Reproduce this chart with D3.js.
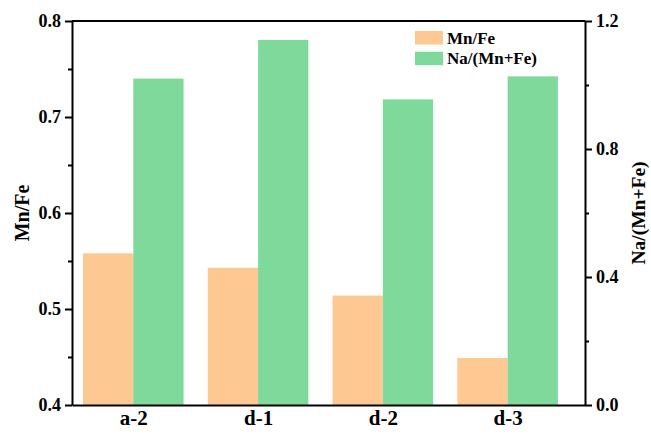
<!DOCTYPE html>
<html>
<head>
<meta charset="utf-8">
<script src="https://cdn.jsdelivr.net/npm/d3@7"></script>
<style>
  html, body { margin: 0; padding: 0; background: #fff; }
  svg text { font-family: "Liberation Serif", "Times New Roman", serif; font-weight: bold; fill: #000; }
</style>
</head>
<body>
<svg id="chart" width="651" height="435"></svg>
<script>
// Samples along the x axis
const categories = ["a-2", "d-1", "d-2", "d-3"];
// Mn/Fe ratio (left axis)
const mnFe = [0.558, 0.543, 0.514, 0.449];
// Na/(Mn+Fe) ratio (right axis)
const naMnFe = [1.020, 1.141, 0.955, 1.027];
// Axis ticks
const leftTicks = [0.4, 0.5, 0.6, 0.7, 0.8];
const leftMinor = [0.45, 0.55, 0.65, 0.75];
const rightTicks = [0.0, 0.4, 0.8, 1.2];
const rightMinor = [0.2, 0.6, 1.0];
const seriesNames = ["Mn/Fe", "Na/(Mn+Fe)"];
const colors = ["#FEC893", "#7FD99B"];

const svg = d3.select("#chart");
const L = 72, R = 585, T = 21, B = 405;

// x positions: category i sits at i+1 on a continuous axis
const x = d3.scaleLinear().domain([0.509, 4.62]).range([L, R]);
const yL = d3.scaleLinear().domain([0.4, 0.8]).range([B, T]);
const yR = d3.scaleLinear().domain([0.0, 1.2]).range([B, T]);
const barW = x(1.403) - x(1);

// Bars
const g = svg.append("g");
g.selectAll("rect.mn").data(mnFe).enter().append("rect")
  .attr("x", (d, i) => x(i + 1) - barW)
  .attr("width", barW)
  .attr("y", d => yL(d))
  .attr("height", d => B - yL(d))
  .attr("fill", colors[0]);
g.selectAll("rect.na").data(naMnFe).enter().append("rect")
  .attr("x", (d, i) => x(i + 1))
  .attr("width", barW)
  .attr("y", d => yR(d))
  .attr("height", d => B - yR(d))
  .attr("fill", colors[1]);

// Frame
svg.append("line").attr("x1", L).attr("x2", R).attr("y1", T).attr("y2", T)
  .attr("stroke", "#000").attr("stroke-width", 2);

// Left axis
const axL = svg.append("g").attr("transform", `translate(${L},0)`)
  .call(d3.axisLeft(yL).tickValues(leftTicks).tickFormat(d3.format(".1f")).tickSizeInner(7).tickSizeOuter(0).tickPadding(4));
svg.append("g").attr("transform", `translate(${L},0)`)
  .call(d3.axisLeft(yL).tickValues(leftMinor).tickFormat("").tickSizeInner(4).tickSizeOuter(0))
  .select(".domain").remove();

// Right axis
const axR = svg.append("g").attr("transform", `translate(${R},0)`)
  .call(d3.axisRight(yR).tickValues(rightTicks).tickFormat(d3.format(".1f")).tickSizeInner(7).tickSizeOuter(0).tickPadding(4));
svg.append("g").attr("transform", `translate(${R},0)`)
  .call(d3.axisRight(yR).tickValues(rightMinor).tickFormat("").tickSizeInner(4).tickSizeOuter(0))
  .select(".domain").remove();

// Bottom axis
const axB = svg.append("g").attr("transform", `translate(0,${B})`)
  .call(d3.axisBottom(x).tickValues(categories.map((c, i) => i + 1))
    .tickFormat((d) => categories[d - 1]).tickSize(0).tickPadding(20));

svg.selectAll(".domain").attr("stroke", "#000").attr("stroke-width", 2);
svg.selectAll(".tick line").attr("stroke", "#000").attr("stroke-width", 2);
axL.selectAll("text").style("font-size", "18px");
axR.selectAll("text").style("font-size", "18px");
axB.selectAll("text").style("font-size", "21px").attr("dy", "0");
svg.selectAll(".tick text").attr("font-family", null);

// Axis titles
svg.append("text")
  .attr("transform", `translate(22,${(T + B) / 2}) rotate(-90)`)
  .attr("text-anchor", "middle").attr("dy", "0.35em").style("font-size", "20px")
  .text("Mn/Fe");
svg.append("text")
  .attr("transform", `translate(645,${(T + B) / 2}) rotate(-90)`)
  .attr("text-anchor", "middle").style("font-size", "19.5px")
  .text("Na/(Mn+Fe)");

// Legend
const lg = svg.append("g").attr("transform", "translate(415,31)");
seriesNames.forEach((name, i) => {
  lg.append("rect").attr("x", 0).attr("y", i * 20.7).attr("width", 28).attr("height", 13.5).attr("fill", colors[i]);
  lg.append("text").attr("x", 32).attr("y", i * 20.7 + 12.5).style("font-size", "17px").text(name);
});
</script>
</body>
</html>
